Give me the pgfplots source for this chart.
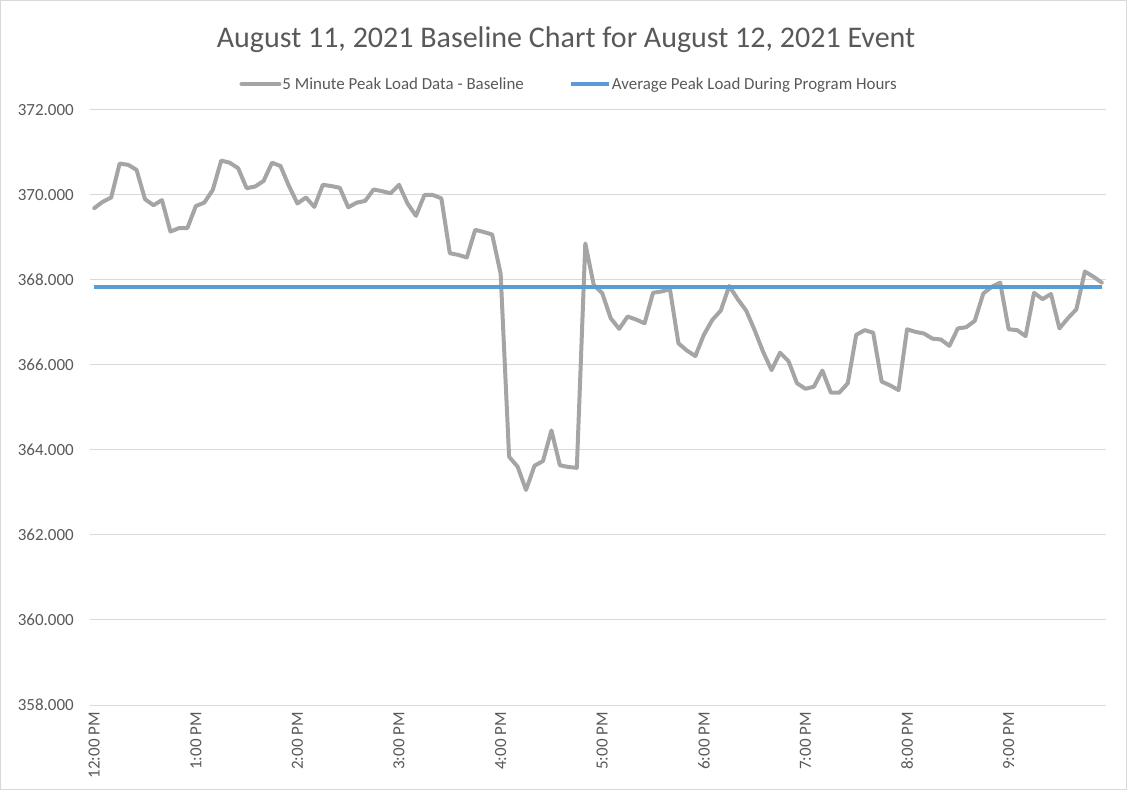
\documentclass[border=0pt]{standalone}
\usepackage{pgfplots}
\pgfplotsset{compat=1.18}
\usepackage{fontspec}
\setmainfont{Carlito}
\definecolor{txt}{HTML}{595959}
\definecolor{grd}{HTML}{D9D9D9}
\definecolor{gline}{HTML}{A5A5A5}
\definecolor{bline}{HTML}{5B9BD5}
\definecolor{frame}{HTML}{D9D9D9}
\begin{document}
\begin{tikzpicture}[x=1pt,y=1pt]
\useasboundingbox (0,0) rectangle (1127,790);
\draw[frame, line width=1pt] (0.5,0.5) rectangle (1126.5,789.5);
\node[txt, font=\fontsize{30}{36}\selectfont] at (566,750) {August 11, 2021 Baseline Chart for August 12, 2021 Event};
\begin{axis}[
  at={(90pt,85pt)}, anchor=south west,
  scale only axis, width=1016pt, height=595pt,
  xmin=-0.5, xmax=119.5, ymin=358, ymax=372,
  ytick={358,360,362,364,366,368,370,372},
  xtick={0,12,24,36,48,60,72,84,96,108},
  xticklabels={12:00 PM,1:00 PM,2:00 PM,3:00 PM,4:00 PM,5:00 PM,6:00 PM,7:00 PM,8:00 PM,9:00 PM},
  axis line style={draw=none},
  major tick length=0pt,
  ymajorgrids, grid style={grd, line width=1pt},
  /pgf/number format/assume math mode=true,
  yticklabel={\pgfmathprintnumber[fixed,fixed zerofill,precision=3,1000 sep={}]{\tick}},
  yticklabel style={txt, font=\fontsize{17}{20}\selectfont, anchor=east, inner sep=0pt},
  yticklabel shift=16pt,
  xticklabel style={txt, font=\fontsize{17}{20}\selectfont, rotate=90, anchor=east, inner sep=0pt},
  xticklabel shift=7pt,
  clip=false,
  legend columns=2,
  legend style={draw=none, fill=none, at={(0.471,1.0437)}, anchor=center,
    font=\fontsize{16.9}{20}\selectfont, text=txt,
    /tikz/every even column/.append style={column sep=44pt},
    nodes={inner sep=1pt}},
  legend image code/.code={\draw[#1] (0pt,0pt) -- (38pt,0pt);},
]
\addplot[gline, line width=4pt, line join=round, line cap=round] coordinates {
(0,369.69) (1,369.84) (2,369.94) (3,370.74) (4,370.71) (5,370.59) (6,369.90) (7,369.76) (8,369.88) (9,369.14)
(10,369.22) (11,369.22) (12,369.74) (13,369.82) (14,370.12) (15,370.81) (16,370.76) (17,370.63) (18,370.16) (19,370.20)
(20,370.33) (21,370.76) (22,370.68) (23,370.21) (24,369.80) (25,369.94) (26,369.72) (27,370.24) (28,370.21) (29,370.17)
(30,369.71) (31,369.82) (32,369.86) (33,370.13) (34,370.09) (35,370.04) (36,370.24) (37,369.80) (38,369.51) (39,370.00)
(40,370.00) (41,369.92) (42,368.63) (43,368.59) (44,368.53) (45,369.18) (46,369.13) (47,369.07) (48,368.15) (49,363.84)
(50,363.61) (51,363.06) (52,363.63) (53,363.74) (54,364.46) (55,363.64) (56,363.60) (57,363.58) (58,368.86) (59,367.88)
(60,367.69) (61,367.10) (62,366.85) (63,367.14) (64,367.07) (65,366.98) (66,367.70) (67,367.73) (68,367.78) (69,366.51)
(70,366.34) (71,366.21) (72,366.71) (73,367.06) (74,367.28) (75,367.86) (76,367.55) (77,367.28) (78,366.82) (79,366.31)
(80,365.88) (81,366.29) (82,366.09) (83,365.57) (84,365.44) (85,365.49) (86,365.87) (87,365.35) (88,365.35) (89,365.57)
(90,366.71) (91,366.82) (92,366.76) (93,365.61) (94,365.52) (95,365.41) (96,366.84) (97,366.78) (98,366.74) (99,366.62)
(100,366.60) (101,366.45) (102,366.86) (103,366.89) (104,367.04) (105,367.68) (106,367.84) (107,367.94) (108,366.84) (109,366.82)
(110,366.68) (111,367.70) (112,367.55) (113,367.67) (114,366.86) (115,367.10) (116,367.31) (117,368.20) (118,368.08) (119,367.94)
};
\addlegendentry{5 Minute Peak Load Data - Baseline}
\addplot[bline, line width=4pt] coordinates {(0,367.84) (119,367.84)};
\addlegendentry{Average Peak Load During Program Hours}
\end{axis}
\end{tikzpicture}
\end{document}
